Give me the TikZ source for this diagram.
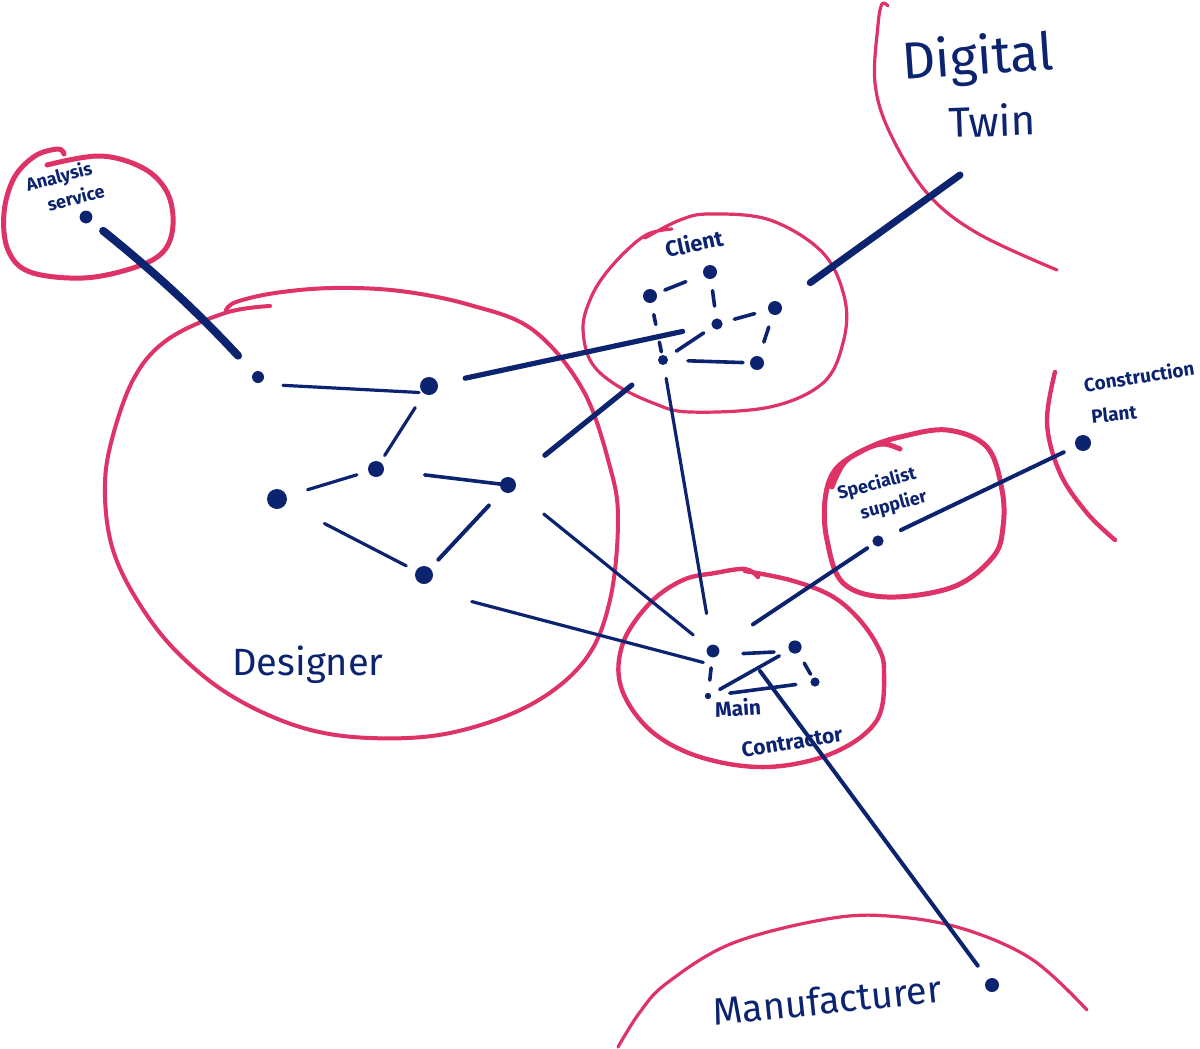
\documentclass[tikz,border=0pt]{standalone}
\usepackage{fontspec}
\setmainfont{Fira Sans}
\definecolor{navyc}{RGB}{12,36,112}
\definecolor{pinkc}{RGB}{221,51,103}
\begin{document}
\begin{tikzpicture}[x=0.5pt,y=-0.5pt,
  pinkline/.style={draw=pinkc, line width=#1, line cap=round, line join=round},
  pinkline/.default=2pt,
  navyline/.style={draw=navyc, line width=#1, line cap=round},
  navyline/.default=1.6pt,
  dot/.style={circle, fill=navyc, inner sep=0pt, minimum size=#1},
  lbl/.style={text=navyc, inner sep=0pt},
  small/.style={lbl, font=\fontsize{9.5}{10}\selectfont\bfseries},
  big/.style={lbl, font=\fontsize{#1}{#1}\selectfont}
]
\useasboundingbox (0,0) rectangle (1200,1049);

% ---------- pink group outlines ----------
\draw[pinkline=2.5pt] plot[smooth, tension=0.6] coordinates {(47,165) (100,156) (143,168) (167,192) (173,225) (163,252) (133,268) (83,278) (30,272) (8,250) (4,213) (14,178) (35,156) (58,149) (64,154)};
\draw[pinkline=2pt] plot[smooth, tension=0.6] coordinates {(270,306) (225,313) (167,340) (133,380) (110,447) (105,497) (113,550) (137,600) (175,650) (230,695) (300,727) (370,738) (450,733) (530,705) (585,660) (610,600) (618,520) (610,467) (583,390) (533,330) (470,305) (400,291) (333,288) (275,293) (236,302) (226,310)};
\draw[pinkline=1.6pt] plot[smooth, tension=0.6] coordinates {(645,238) (680,220) (710,214) (770,220) (823,253) (845,300) (843,343) (823,383) (770,407) (690,412) (653,403) (613,383) (590,360) (583,327) (590,300) (603,277) (625,252) (648,234) (672,229)};
\draw[pinkline=2.2pt] plot[smooth, tension=0.6] coordinates {(745,571) (790,580) (830,595) (857,617) (877,645) (884,670) (877,720) (833,753) (767,767) (700,757) (650,730) (621,687) (623,643) (650,603) (683,580) (715,573) (745,569) (758,577)};
\draw[pinkline=2.5pt] plot[smooth, tension=0.6] coordinates {(832,487) (845,462) (870,447) (900,437) (947,430) (987,447) (1002,490) (1003,527) (993,557) (953,587) (887,597) (843,583) (827,540) (825,500) (835,470) (860,452) (882,444) (900,449)};
\draw[pinkline=2.2pt] plot[smooth, tension=0.6] coordinates {(1055,372) (1047,423) (1060,473) (1087,513) (1115,540)};
\draw[pinkline=1.6pt] plot[smooth, tension=0.6] coordinates {(888,6) (882,4) (878,25) (875,83) (890,133) (927,193) (977,233) (1057,270)};
\draw[pinkline=1.6pt] plot[smooth, tension=0.6] coordinates {(618,1047) (640,1012) (667,983) (733,943) (833,918) (900,917) (967,930) (1033,960) (1087,1010)};

% ---------- dots ----------
\node[dot=6.4pt] (a1) at (86,217) {};
\node[dot=6pt]   (d1) at (258,377) {};
\node[dot=9pt]   (d2) at (429,386) {};
\node[dot=8pt]   (d3) at (376,469) {};
\node[dot=10pt]  (d4) at (277,499) {};
\node[dot=8pt]   (d5) at (508,485) {};
\node[dot=9pt]   (d6) at (424,575) {};
\node[dot=7pt]   (c1) at (650,296) {};
\node[dot=7pt]   (c2) at (710,272) {};
\node[dot=5.6pt] (c3) at (717,324) {};
\node[dot=7pt]   (c4) at (775,308) {};
\node[dot=7pt]   (c5) at (757,363) {};
\node[dot=5pt]   (c6) at (663,360) {};
\node[dot=6.4pt] (m1) at (713,651) {};
\node[dot=6.6pt] (m2) at (795,647) {};
\node[dot=4.6pt] (m3) at (815,682) {};
\node[dot=3.2pt] (m4) at (708,696) {};
\node[dot=5.6pt] (s1) at (878,541) {};
\node[dot=8pt]   (cp) at (1083,443) {};
\node[dot=7pt]   (mf) at (992,985) {};
\coordinate (twinend) at (960,175);
\coordinate (mcstart) at (760,671);

% ---------- connectors ----------
% analysis -> designer
\draw[navyline=4pt, shorten <=11pt, shorten >=14.6pt] (a1.center) to[bend left=4] (d1.center);
% designer internal
\draw[navyline, shorten <=12.5pt, shorten >=5pt] ([yshift=-3.5pt]d1.center) -- ([yshift=-3.5pt]d2.center);
\draw[navyline, shorten <=12.8pt, shorten >=8pt] (d2.center) -- (d3.center);
\draw[navyline, shorten <=10pt, shorten >=16pt] (d3.center) -- (d4.center);
\draw[navyline=1.8pt, shorten <=24.5pt, shorten >=3pt] (d3.center) -- (d5.center);
\draw[navyline, shorten <=26.7pt, shorten >=10pt] (d4.center) -- (d6.center);
\draw[navyline=2pt, shorten <=14pt, shorten >=10.5pt] (d5.center) -- (d6.center);
% designer -> client
\draw[navyline=2.6pt, shorten <=18.5pt, shorten >=17.6pt] (d2.center) -- (c3.center);
\draw[navyline=2.6pt, shorten <=23.7pt, shorten >=20pt] (d5.center) -- (c6.center);
% client -> digital twin
\draw[navyline=3.5pt, shorten <=21.7pt] (c4.center) -- (twinend);
% client internal
\draw[navyline=1.8pt, shorten <=8pt, shorten >=13pt] (c1.center) -- (c2.center);
\draw[navyline=1.8pt, shorten <=9.4pt, shorten >=9pt] (c2.center) -- (c3.center);
\draw[navyline=1.8pt, shorten <=9.5pt, dash pattern=on 5pt off 9pt on 5pt off 30pt] (c1.center) -- (c6.center);
\draw[navyline=1.8pt, shorten <=9pt, shorten >=10.5pt] (c3.center) -- (c4.center);
\draw[navyline=1.8pt, shorten <=10pt, shorten >=11pt] (c4.center) -- (c5.center);
\draw[navyline=1.8pt, shorten <=8pt, shorten >=8pt] (c3.center) -- (c6.center);
\draw[navyline=1.8pt, shorten <=12.5pt, shorten >=7pt] (c6.center) -- (c5.center);
% client / designer -> main contractor
\draw[navyline, shorten <=9.3pt, shorten >=19pt] (c6.center) -- (m1.center);
\draw[navyline, shorten <=23pt, shorten >=12.7pt] (d5.center) -- (m1.center);
\draw[navyline, shorten <=24.7pt, shorten >=5pt] ([yshift=-7pt]d6.center) -- ([yshift=-7pt]m1.center);
% main contractor internal
\draw[navyline=1.8pt, shorten <=15pt, shorten >=10.5pt] ([yshift=-2pt]m1.center) -- ([yshift=-2pt]m2.center);
\draw[navyline=1.8pt, shorten <=9.3pt, shorten >=4.5pt] (m2.center) -- (m3.center);
\draw[navyline=1.8pt, shorten <=8.5pt, shorten >=8pt] (m1.center) -- (m4.center);
\draw[navyline=1.8pt, shorten <=6.7pt, shorten >=9pt] (m4.center) -- (m2.center);
\draw[navyline=1.8pt, shorten <=11pt, shorten >=9.7pt] (m4.center) -- (m3.center);
% main contractor -> specialist supplier -> construction plant
\draw[navyline=2pt, shorten <=24pt, shorten >=6.5pt] (m1.center) -- (s1.center);
\draw[navyline=2pt, shorten <=12.7pt, shorten >=10.7pt] (s1.center) -- (cp.center);
% main contractor -> manufacturer
\draw[navyline=2pt, shorten >=12pt] (mcstart) -- (mf.center);

% ---------- labels ----------
\node[small, rotate=15, align=center, font=\fontsize{9}{12.5}\selectfont\bfseries] (tAnalysis) at (62,188) {Analysis\\\hspace*{1.2em}service};
\node[big=19] (tDesigner) at (308,665) {Designer};
\node[small, font=\fontsize{11}{12}\selectfont\bfseries, rotate=12] (tClient) at (694,243) {Client};
\node[big=26, rotate=4] (tDigital) at (978,60) {Digital};
\node[big=21, rotate=2] (tTwin) at (992,120) {Twin};
\node[small, font=\fontsize{10.5}{11}\selectfont\bfseries, rotate=4] (tMain) at (738,708) {Main};
\node[small, font=\fontsize{10.5}{11}\selectfont\bfseries, rotate=9] (tContractor) at (792,742) {Contractor};
\node[small, rotate=15, align=center, font=\fontsize{9}{12.5}\selectfont\bfseries] (tSpecialist) at (880,496) {Specialist\\\hspace*{1.2em}supplier};
\node[small, rotate=9] (tConstruction) at (1139,376) {Construction};
\node[small, rotate=6] (tPlant) at (1114,414) {Plant};
\node[big=19, rotate=6] (tManufacturer) at (827,1000) {Manufacturer};
\end{tikzpicture}
\end{document}
